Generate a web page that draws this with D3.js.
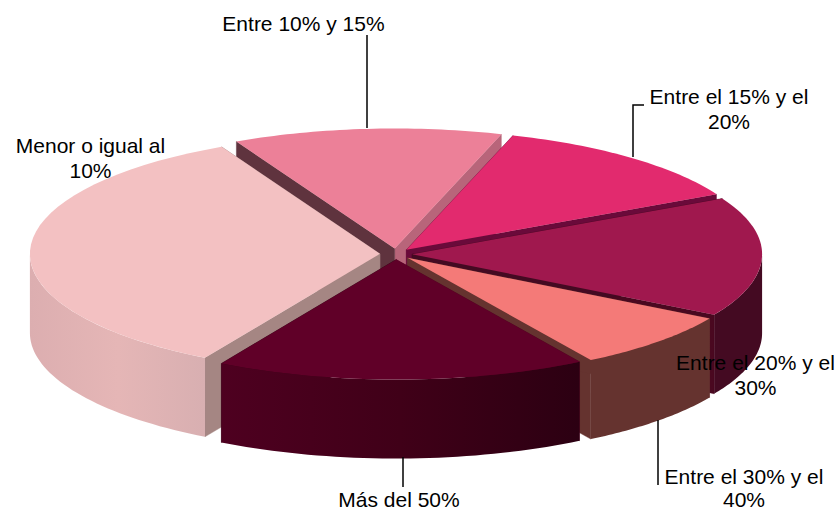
<!DOCTYPE html>
<html><head><meta charset="utf-8">
<script src="https://cdn.jsdelivr.net/npm/d3@7"></script>
<style>html,body{margin:0;padding:0;background:#fff}svg{display:block}text{font-family:"Liberation Sans",Arial,sans-serif;font-size:21px;fill:#000;text-anchor:middle}</style>
</head><body><svg id="c" width="840" height="512"></svg>
<script>
const categories = ["Entre 10% y 15%","Entre el 15% y el 20%","Entre el 20% y el 30%","Entre el 30% y el 40%","Más del 50%","Menor o igual al 10%"];
const values = [12.4,12.4,16.1,7.8,17.1,34.2];
const topColors = ["#EC8098","#E22A6E","#A0184E","#F47A78","#600028","#F3C1C2"];
const sideStart = ["#b8657a","#6a0a3a","#440a22","#65332f","#4e0020","#dcaeb0"];
const sideMid   = ["#b8657a","#6a0a3a","#440a22","#65332f","#400018","#e5b6b6"];
const sideEnd   = ["#b8657a","#6a0a3a","#440a22","#65332f","#2c0012","#d8afb1"];
const cutStart  = ["#5f333e","#6a0a3a","#440a22","#65332f","#4e0020","#a58683"];
const cutEnd    = ["#b8657a","#6a0a3a","#4a0820","#65332f","#2c0012","#a58683"];
const drawOrder = [0,1,2,3,5,4];

const svg = d3.select("#c");
const cx=396, cy=254, rx=350, ry=120, depth=79, explode=0.046;
const sx=d3.scaleLinear().domain([-1,1]).range([cx-rx,cx+rx]);
const sy=d3.scaleLinear().domain([-1,1]).range([cy-ry,cy+ry]);
const startAngle=-26.9*Math.PI/180;
const arcs=d3.pie().sort(null).startAngle(startAngle).endAngle(startAngle+2*Math.PI)(values);
const line=d3.line().x(d=>d[0]).y(d=>d[1]);

const defs=svg.append("defs");
function grad(id,i){
  const g=defs.append("linearGradient").attr("id",id);
  [[0,sideStart[i]],[.5,sideMid[i]],[1,sideEnd[i]]].forEach(s=>g.append("stop").attr("offset",s[0]).attr("stop-color",s[1]));
}
categories.forEach((c,i)=>grad("side"+i,i));

function slice(a,i){
  const mid=(a.startAngle+a.endAngle)/2;
  const ox=explode*Math.sin(mid), oy=-explode*Math.cos(mid);
  const P=(t,r=1,dz=0)=>[sx(r*Math.sin(t)+ox), sy(-r*Math.cos(t)+oy)+dz];
  const arcPts=(t0,t1,dz=0)=>d3.range(0,41).map(k=>P(t0+(t1-t0)*k/40,1,dz));
  const g=svg.append("g");
  // cut faces
  const q=(t,col)=>g.append("path").attr("d",line([P(0,0),P(t),P(t,1,depth),P(0,0,depth)])+"Z").attr("fill",col).attr("stroke",col).attr("stroke-width",.4);
  q(a.endAngle,cutEnd[i]);
  q(a.startAngle,cutStart[i]);
  // outer wall, front part only
  const wrap=[[Math.PI/2,1.5*Math.PI],[Math.PI/2+2*Math.PI,1.5*Math.PI+2*Math.PI]];
  wrap.forEach(w=>{
    const t0=Math.max(a.startAngle,w[0]), t1=Math.min(a.endAngle,w[1]);
    if(t1>t0){
      g.append("path").attr("d",line(arcPts(t0,t1).concat(arcPts(t1,t0,depth)))+"Z")
       .attr("fill","url(#side"+i+")");
    }
  });
  // top
  g.append("path").attr("d",line([P(0,0)].concat(arcPts(a.startAngle,a.endAngle)))+"Z").attr("fill",topColors[i]);
}
drawOrder.forEach(i=>slice(arcs[i],i));

// leader lines
const leaders=[[[367,35],[367,128]],[[633,157],[633,105],[644,105]],[[658,420],[658,485]],[[403,457],[403,487]]];
leaders.forEach(l=>svg.append("path").attr("d",line(l)).attr("fill","none").attr("stroke","#000").attr("stroke-width",1.5));

// labels
const labelLines=[["Entre 10% y 15%"],["Entre el 15% y el","20%"],["Entre el 20% y el","30%"],["Entre el 30% y el","40%"],["Más del 50%"],["Menor o igual al","10%"]];
const labelX=[303.5,729,755.5,744,399,90.5];
const labelY=[31,104,370,484,507,153];
const labelGap=[24.5,24.5,24.5,23,24.5,24.5];
labelLines.forEach((ls,i)=>ls.forEach((s,k)=>svg.append("text").attr("x",labelX[i]).attr("y",labelY[i]+k*labelGap[i]).text(s)));
</script></body></html>
